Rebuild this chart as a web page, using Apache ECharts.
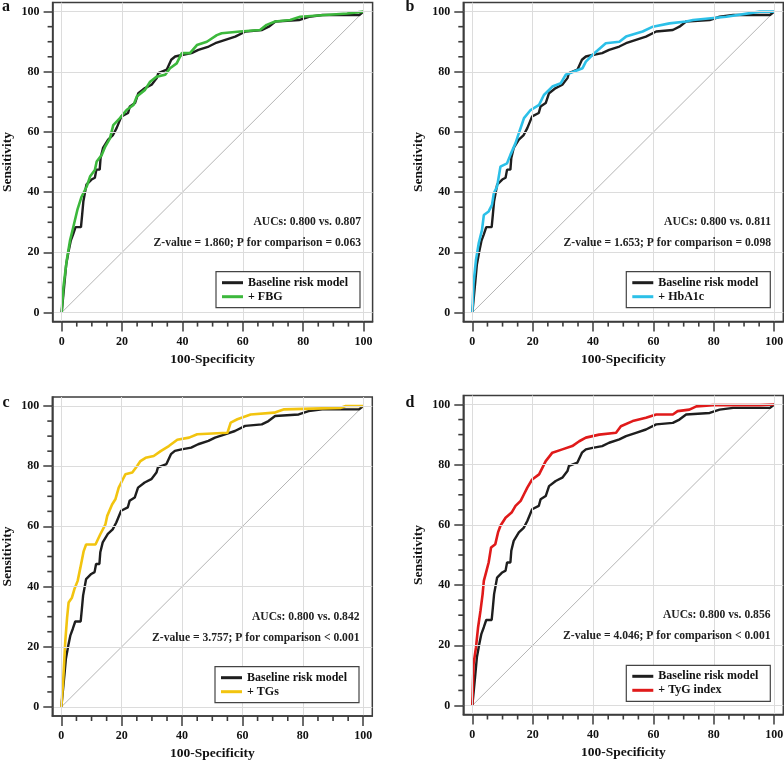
<!DOCTYPE html>
<html>
<head>
<meta charset="utf-8">
<script src="https://cdn.jsdelivr.net/npm/echarts/dist/echarts.min.js"></script>
<style>html,body{margin:0;padding:0;background:#fff;}#c{width:784px;height:762px;}</style>
</head>
<body>
<div id="c"></div>
<script>
// ---- data ----
const axisMin = -3, axisMax = 103;
const majorTicks = [0, 20, 40, 60, 80, 100];
const minorTicks = [5, 10, 15, 25, 30, 35, 45, 50, 55, 65, 70, 75, 85, 90, 95];
const diagonal = [[0, 0], [100, 100]];

const baseline = [[0,0],[1,10.5],[1.5,16],[2.3,20.4],[3,23.8],[3.8,26],[4.6,28.4],[6.4,28.4],[6.8,32.6],[7.2,37],[8.2,42.5],[9.9,44.2],[11,44.8],[11.5,47.5],[12.6,47.5],[12.9,51.4],[13.7,54.7],[15.4,57.5],[17,59],[18.2,61.3],[19.8,65.2],[22,66.3],[22.6,68.5],[24.3,69.6],[25.4,72.9],[27.6,74.6],[29.8,75.7],[31.5,77.9],[32,79.6],[34.8,80.7],[36.3,84],[37.6,85.1],[39.8,85.6],[43,86.2],[45.3,87.3],[48.7,88.4],[50.9,89.5],[54.2,90.6],[57.5,91.7],[60.9,93.4],[66.4,93.9],[68.6,95],[70.8,96.7],[78.6,97.2],[81.9,98.3],[86.4,98.9],[98.6,98.9],[100,100]];

const fbg = [[0,0],[0.6,8.6],[1.7,17.5],[2.8,24.1],[3.9,28.6],[5.2,34.1],[6.6,38.5],[8.3,41.9],[9.4,45.2],[11,47.4],[11.6,50.2],[13.3,52.4],[14.4,55.1],[16,57.9],[17.1,62.3],[19.3,64.6],[21.5,67.3],[23.8,69],[24.9,71.8],[27.6,74],[29.3,76.7],[31.5,78.4],[34.3,79],[35.9,81.2],[38.1,82.8],[39.8,86.2],[42.5,86.2],[44.8,88.9],[48.1,90],[51.4,92.2],[53,92.8],[59.1,93.4],[65.7,93.9],[67.9,95.6],[70.7,96.7],[75.7,97.2],[79,98.3],[94.5,99.4],[95,100],[100,100]];

const hba1c = [[0,0],[0.4,9.7],[1.2,17.5],[2.1,23],[3.2,27.5],[3.8,32.4],[5.4,33.6],[6.5,35.8],[7.1,39.6],[8.2,41.9],[9.3,48.5],[11.5,49.6],[12.6,52.4],[14.3,56.3],[15.4,59.6],[17.1,64.6],[19.3,67.3],[22.1,69],[23.7,72.3],[26.5,75.1],[29.3,76.2],[30.9,79],[33.7,80.1],[36.5,81.2],[37.6,83.4],[40.4,86.2],[44.2,89.5],[48.7,90],[50.9,91.7],[56.4,93.4],[59.8,95],[65.3,96.1],[70.8,96.7],[73.1,97.2],[84.1,98.3],[95.2,100],[100,100]];

const tgs = [[0,0],[0.6,8.6],[1.3,21.9],[1.9,29.7],[2.4,34.7],[3.5,36.3],[4.3,39.1],[5.4,41.9],[6.3,46.3],[7.4,51.8],[8.2,54],[11.3,54],[12.9,57.4],[14.6,60.7],[15.2,63.5],[16.8,67.3],[17.9,69],[19,72.9],[20.1,75.1],[21.2,77.3],[23.5,77.9],[25.1,80.1],[26.2,81.7],[27.9,82.8],[30.6,83.4],[32.9,85],[35.6,86.7],[38.4,88.8],[42.3,89.5],[45,90.6],[55,91.1],[56.1,94.5],[58.3,95.6],[62.7,97.2],[70.5,97.8],[73.8,98.9],[92.6,99.4],[94.2,100],[100,100]];

const tyg = [[0,0],[0.4,13.8],[1.2,19.3],[1.9,26],[2.7,31.5],[3.4,37],[3.8,41.4],[4.7,44.8],[5.4,47.5],[6.2,52.5],[7.6,53.6],[8.5,57.5],[9.3,59.7],[11,62.4],[13,64.1],[14.3,66.3],[16,68],[17.1,70.2],[18.2,72.4],[19.8,75.1],[22.1,76.8],[24.3,81.2],[26.5,84],[29.8,85.1],[33.1,86.2],[35.4,87.8],[37.6,89],[42,90],[47.6,90.6],[49.2,92.8],[53.1,94.5],[57.5,95.6],[60.9,96.7],[66.4,96.7],[68,97.8],[71.9,98.3],[74.2,99.4],[79.7,99.8],[95.2,99.8],[100,100]];

const panelLetters = ['a', 'b', 'c', 'd'];
const baselineName = 'Baseline risk model';
const addedNames = ['+ FBG', '+ HbA1c', '+ TGs', '+ TyG index'];
const addedData = [fbg, hba1c, tgs, tyg];
const aucTexts = ['AUCs: 0.800 vs. 0.807', 'AUCs: 0.800 vs. 0.811', 'AUCs: 0.800 vs. 0.842', 'AUCs: 0.800 vs. 0.856'];
const zTexts = ['Z-value = 1.860; P for comparison = 0.063', 'Z-value = 1.653; P for comparison = 0.098', 'Z-value = 3.757; P for comparison < 0.001', 'Z-value = 4.046; P for comparison < 0.001'];

// ---- styles / layout ----
const FONT = '"Liberation Serif", "Times New Roman", serif';
const colors = ['#3cb83c', '#2cc0e8', '#f2c40f', '#e01a1a'];
const BLACK = '#1e1e1e';
const AX = '#3c3c3c';
const layout = [
  {left: 52.6, top: 2.6, legL: 216, legT: 271.7, txtR: 361, y1: 221.7, y2: 242.7, labX: 6, labY: 7},
  {left: 463.3, top: 2.6, legL: 626.3, legT: 271.7, txtR: 771, y1: 221.7, y2: 242.7, labX: 410, labY: 7},
  {left: 52.3, top: 397, legL: 215, legT: 666.7, txtR: 359.5, y1: 616.7, y2: 637.7, labX: 6, labY: 403},
  {left: 463.3, top: 395.5, legL: 626.3, legT: 665.3, txtR: 770.5, y1: 615.3, y2: 636.3, labX: 410, labY: 403}
];
const W = 320, H = 319;
const MINOR_LEN = 5;

const grid = [], xAxis = [], yAxis = [], series = [], legend = [], graphic = [];
const labelStyle = {fontFamily: FONT, fontWeight: 'bold', fontSize: 12, color: '#111'};
const nameStyle = {fontFamily: FONT, fontWeight: 'bold', fontSize: 13.5, color: '#111'};

layout.forEach((L, i) => {
  grid.push({left: L.left, top: L.top, width: W, height: H, show: true, borderColor: AX, borderWidth: 1.5,
             backgroundColor: 'transparent', containLabel: false, outerBoundsMode: 'none'});
  const mainAxis = (isX) => ({
    gridIndex: i, type: 'value', min: axisMin, max: axisMax,
    position: isX ? 'bottom' : 'left',
    axisLine: {show: true, onZero: false, lineStyle: {color: AX, width: 1.5}},
    axisTick: {show: true, customValues: majorTicks, length: isX ? 10 : 9, lineStyle: {color: AX, width: 1.5}},
    axisLabel: Object.assign({show: true, customValues: majorTicks, margin: isX ? 14 : 13}, labelStyle),
    splitLine: {show: true, customValues: majorTicks, lineStyle: {color: '#dcdcdc', width: 1}},
    name: isX ? '100-Specificity' : 'Sensitivity',
    nameLocation: 'middle', nameGap: isX ? 31 : 38, nameTextStyle: nameStyle,
    z: 5
  });
  xAxis.push(mainAxis(true));
  yAxis.push(mainAxis(false));
  series.push({type: 'line', xAxisIndex: i, yAxisIndex: i, data: diagonal, showSymbol: false, silent: true,
               lineStyle: {color: '#b5b5b5', width: 1}, z: 1});
  series.push({type: 'line', name: baselineName, xAxisIndex: i, yAxisIndex: i, data: baseline, showSymbol: false,
               color: BLACK, lineStyle: {color: BLACK, width: 2.4}, z: 2});
  series.push({type: 'line', name: addedNames[i], xAxisIndex: i, yAxisIndex: i, data: addedData[i], showSymbol: false,
               color: colors[i], lineStyle: {color: colors[i], width: 2.6}, z: 3});
  legend.push({
    data: [baselineName, addedNames[i]], orient: 'vertical', left: L.legL, top: L.legT,
    padding: [5, 12, 5, 6], itemGap: 2, itemWidth: 21, itemHeight: 3, icon: 'rect',
    backgroundColor: '#fff', borderColor: '#444', borderWidth: 1.2, borderRadius: 0,
    textStyle: {fontFamily: FONT, fontWeight: 'bold', fontSize: 12, color: '#111'},
    selectedMode: false, z: 10
  });
  const txt = (t, y) => ({type: 'text', x: L.txtR, y: y, z: 20,
    style: {text: t, align: 'right', verticalAlign: 'middle', textAlign: 'right', textVerticalAlign: 'middle',
            fontFamily: FONT, fontWeight: 'bold', fontSize: 11.6, fill: '#222'}});
  graphic.push(txt(aucTexts[i], L.y1));
  graphic.push(txt(zTexts[i], L.y2));
  graphic.push({type: 'text', x: L.labX, y: L.labY, z: 20,
    style: {text: panelLetters[i], align: 'center', verticalAlign: 'middle', textAlign: 'center', textVerticalAlign: 'middle',
            fontFamily: FONT, fontWeight: 'bold', fontSize: 16, fill: '#111'}});
});

const chart = echarts.init(document.getElementById('c'), null, {renderer: 'canvas'});
chart.setOption({
  animation: false,
  backgroundColor: '#fff',
  grid, xAxis, yAxis, series, legend, graphic
});

// minor tick marks: positions come from each grid's own axis scales
const tickStyle = {stroke: AX, lineWidth: 1.6};
const minorEls = [];
layout.forEach((L, i) => {
  minorTicks.forEach(v => {
    const pB = chart.convertToPixel({gridIndex: i}, [v, axisMin]);
    const pL = chart.convertToPixel({gridIndex: i}, [axisMin, v]);
    minorEls.push({type: 'line', z: 15, silent: true,
      shape: {x1: pB[0], y1: pB[1], x2: pB[0], y2: pB[1] + MINOR_LEN}, style: tickStyle});
    minorEls.push({type: 'line', z: 15, silent: true,
      shape: {x1: pL[0] - MINOR_LEN, y1: pL[1], x2: pL[0], y2: pL[1]}, style: tickStyle});
  });
});
chart.setOption({graphic: graphic.concat(minorEls)});
</script>
</body>
</html>
